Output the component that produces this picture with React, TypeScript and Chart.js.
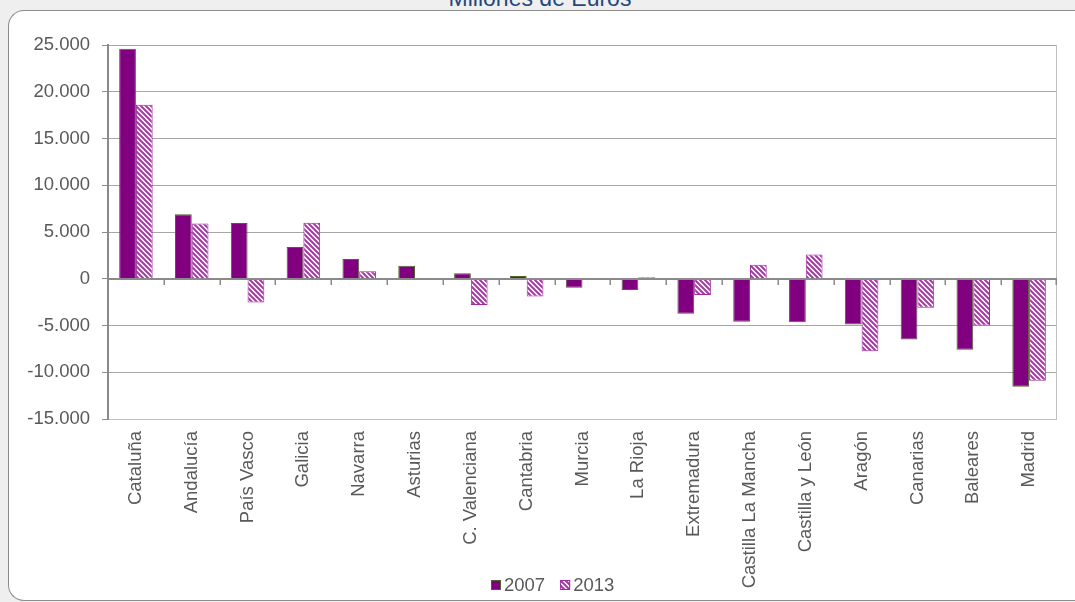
import React, { useEffect, useRef } from 'react';
import { Chart, registerables } from 'chart.js';

Chart.register(...registerables);

const categories = [
  'Cataluña', 'Andalucía', 'País Vasco', 'Galicia', 'Navarra', 'Asturias',
  'C. Valenciana', 'Cantabria', 'Murcia', 'La Rioja', 'Extremadura',
  'Castilla La Mancha', 'Castilla y León', 'Aragón', 'Canarias', 'Baleares', 'Madrid',
];
const values2007 = [24600, 6900, 5950, 3400, 2100, 1400, 600, 300, -950, -1200, -3750, -4600, -4650, -4900, -6500, -7600, -11550];
const values2013 = [18600, 5900, -2550, 6000, 800, 0, -2800, -1900, -80, 150, -1750, 1500, 2600, -7750, -3100, -5000, -10900];
const seriesLabels = ['2007', '2013'];
const yMin = -15000;
const yMax = 25000;
const yStep = 5000;
const titleText = 'Millones de Euros';

const FONT = "'Liberation Sans', Arial, sans-serif";
const FONT_SIZE = 18.5;
const TEXT_COLOR = '#595959';
const COLOR_2007 = '#800080';
const BORDER_2007 = '#4F6228';
const STRIPE_2013 = '#A33BA3';
const BORDER_2013 = '#A02BA0';

const fmt = (v: number) => {
  const s = Math.abs(v).toString().replace(/\B(?=(\d{3})+(?!\d))/g, '.');
  return (v < 0 ? '-' : '') + s;
};

function makePattern(): CanvasPattern | string {
  const s = 5;
  const c = document.createElement('canvas');
  c.width = s;
  c.height = s;
  const g = c.getContext('2d');
  if (!g) return STRIPE_2013;
  g.fillStyle = '#ffffff';
  g.fillRect(0, 0, s, s);
  g.strokeStyle = STRIPE_2013;
  g.lineWidth = 2;
  g.beginPath();
  for (const k of [-s, 0, s]) {
    g.moveTo(k - 1, -1);
    g.lineTo(k + s + 1, s + 1);
  }
  g.stroke();
  const p = g.createPattern(c, 'repeat');
  return p || STRIPE_2013;
}

const decorPlugin = {
  id: 'decor',
  beforeDatasetsDraw(chart: any) {
    const { ctx, chartArea } = chart;
    ctx.save();
    ctx.strokeStyle = '#C0C0C0';
    ctx.lineWidth = 1;
    ctx.beginPath();
    ctx.moveTo(chartArea.right - 0.5, chartArea.top);
    ctx.lineTo(chartArea.right - 0.5, chartArea.bottom);
    ctx.stroke();
    ctx.restore();
  },
  afterDatasetsDraw(chart: any) {
    const { ctx, chartArea, scales } = chart;
    const x = scales.x;
    const y = scales.y;
    const y0 = Math.round(y.getPixelForValue(0));
    ctx.save();
    ctx.strokeStyle = '#8A8A8A';
    ctx.lineWidth = 2;
    ctx.beginPath();
    ctx.moveTo(chartArea.left, y0);
    ctx.lineTo(chartArea.right, y0);
    ctx.stroke();
    ctx.lineWidth = 1.5;
    ctx.beginPath();
    const n = categories.length;
    for (let i = 1; i <= n; i++) {
      const px = i < n
        ? (x.getPixelForValue(i - 1) + x.getPixelForValue(i)) / 2
        : chartArea.right - 1;
      ctx.moveTo(Math.round(px) + 0.25, y0);
      ctx.lineTo(Math.round(px) + 0.25, y0 + 6);
    }
    ctx.stroke();
    ctx.restore();
  },
  afterDraw(chart: any) {
    const { ctx } = chart;
    const ds = chart.data.datasets;
    ctx.save();
    ctx.font = `${FONT_SIZE}px ${FONT}`;
    ctx.textBaseline = 'middle';
    ctx.textAlign = 'left';
    let cx = 491;
    const cy = 585;
    ds.forEach((d: any) => {
      ctx.fillStyle = d.backgroundColor;
      ctx.fillRect(cx, cy - 5, 10, 10);
      ctx.strokeStyle = d.borderColor;
      ctx.lineWidth = 1;
      ctx.strokeRect(cx + 0.5, cy - 4.5, 9, 9);
      ctx.fillStyle = TEXT_COLOR;
      ctx.fillText(d.label, cx + 13, cy + 1);
      cx += 13 + ctx.measureText(d.label).width + 15;
    });
    ctx.restore();
  },
};

export default function App() {
  const ref = useRef<HTMLCanvasElement | null>(null);

  useEffect(() => {
    if (!ref.current) return;
    const pattern = makePattern();
    const chart = new Chart(ref.current, {
      type: 'bar',
      data: {
        labels: categories,
        datasets: [
          {
            label: seriesLabels[0],
            data: values2007,
            backgroundColor: COLOR_2007,
            borderColor: BORDER_2007,
            borderWidth: 1,
          },
          {
            label: seriesLabels[1],
            data: values2013,
            backgroundColor: pattern as any,
            borderColor: BORDER_2013,
            borderWidth: 1,
          },
        ],
      },
      options: {
        animation: false,
        responsive: false,
        maintainAspectRatio: false,
        layout: { padding: { left: 8, right: 18, top: 45, bottom: 0 } },
        datasets: { bar: { categoryPercentage: 0.6, barPercentage: 1 } },
        plugins: {
          legend: { display: false },
          tooltip: { enabled: false },
          title: { display: false },
        },
        scales: {
          x: {
            grid: { display: false, drawTicks: false },
            border: { display: false },
            ticks: {
              autoSkip: false,
              maxRotation: 90,
              minRotation: 90,
              padding: 12,
              color: TEXT_COLOR,
              font: { family: FONT, size: FONT_SIZE },
            },
            afterFit: (s: any) => { s.height = 183; },
          },
          y: {
            min: yMin,
            max: yMax,
            ticks: {
              stepSize: yStep,
              color: TEXT_COLOR,
              padding: 12,
              font: { family: FONT, size: FONT_SIZE },
              callback: (v: any) => fmt(Number(v)),
            },
            grid: {
              color: (c: any) => (c.tick && c.tick.value === yMin ? '#C0C0C0' : '#A6A6A6'),
              lineWidth: 1,
              drawTicks: true,
              tickLength: 6,
              tickColor: '#8A8A8A',
            },
            border: { display: true, color: '#8A8A8A', width: 2 },
            afterFit: (s: any) => { s.width = 100; },
          },
        },
      },
      plugins: [decorPlugin],
    });
    return () => chart.destroy();
  }, []);

  return (
    <div style={{ position: 'fixed', left: 0, top: 0, width: 1075, height: 602, background: '#EFEFEF', overflow: 'hidden' }}>
      <div style={{
        position: 'absolute', left: 0, top: -15, width: 1080, textAlign: 'center',
        font: `23px ${FONT}`, lineHeight: '26px', color: '#1F497D',
      }}>{titleText}</div>
      <div style={{
        position: 'absolute', left: 8, top: 10, width: 1100, height: 589,
        borderTop: '1px solid #8C8C8C', borderLeft: '1px solid #8C8C8C', borderBottom: '1px solid #8C8C8C',
        borderRight: 'none',
        borderTopLeftRadius: 16, borderBottomLeftRadius: 16, background: '#FFFFFF',
      }} />
      <canvas ref={ref} width={1075} height={602} style={{ position: 'absolute', left: 0, top: 0, display: 'block' }} />
    </div>
  );
}
